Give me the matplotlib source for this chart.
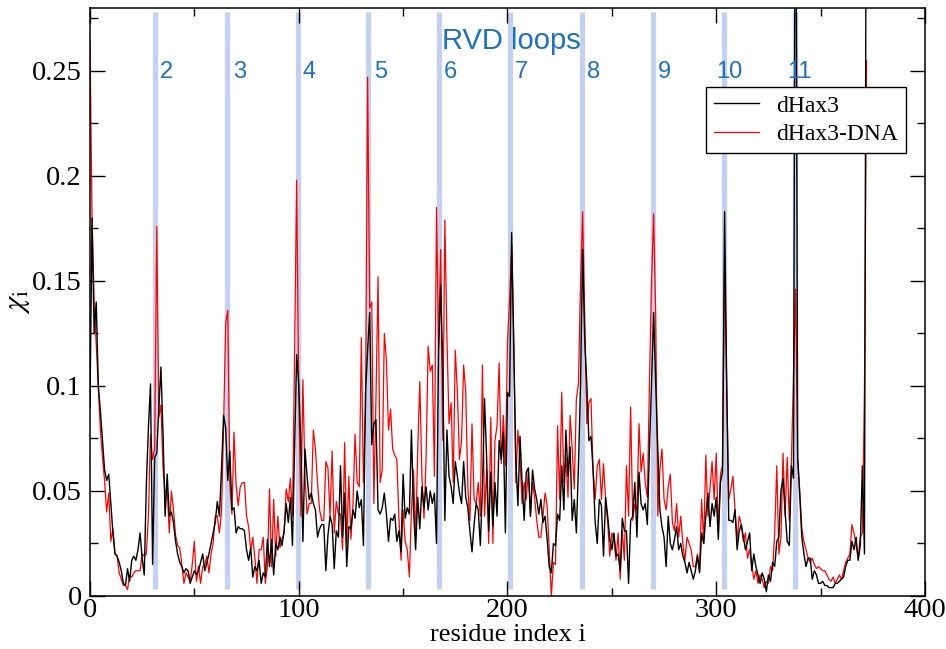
import numpy as np
import matplotlib
matplotlib.use("Agg")
import matplotlib.pyplot as plt
from matplotlib.ticker import MultipleLocator, FuncFormatter

# ---------------- data ----------------
# chi_i per residue index 0..372
chi_dhax3 = [
    0.090, 0.180, 0.125, 0.140, 0.100, 0.088, 0.074, 0.060, 0.055, 0.058,
    0.044, 0.030, 0.020, 0.019, 0.016, 0.012, 0.006, 0.005, 0.013, 0.007,
    0.017, 0.019, 0.017, 0.022, 0.030, 0.018, 0.010, 0.053, 0.080, 0.101,
    0.015, 0.066, 0.068, 0.090, 0.109, 0.077, 0.038, 0.058, 0.038, 0.040,
    0.035, 0.026, 0.020, 0.016, 0.014, 0.011, 0.013, 0.012, 0.006, 0.009,
    0.012, 0.010, 0.012, 0.016, 0.020, 0.012, 0.016, 0.020, 0.025, 0.030,
    0.035, 0.045, 0.038, 0.060, 0.086, 0.080, 0.055, 0.069, 0.041, 0.042,
    0.030, 0.033, 0.032, 0.032, 0.031, 0.022, 0.017, 0.023, 0.009, 0.014,
    0.012, 0.017, 0.006, 0.011, 0.009, 0.027, 0.014, 0.027, 0.010, 0.025,
    0.022, 0.028, 0.024, 0.031, 0.044, 0.035, 0.047, 0.024, 0.070, 0.115,
    0.101, 0.073, 0.026, 0.070, 0.057, 0.046, 0.049, 0.044, 0.041, 0.028,
    0.032, 0.034, 0.034, 0.012, 0.029, 0.038, 0.034, 0.013, 0.031, 0.028,
    0.062, 0.028, 0.049, 0.014, 0.033, 0.032, 0.041, 0.037, 0.050, 0.042,
    0.046, 0.024, 0.097, 0.117, 0.135, 0.072, 0.082, 0.084, 0.041, 0.039,
    0.042, 0.049, 0.039, 0.026, 0.037, 0.036, 0.039, 0.026, 0.031, 0.021,
    0.058, 0.037, 0.042, 0.039, 0.079, 0.041, 0.022, 0.047, 0.032, 0.052,
    0.042, 0.052, 0.041, 0.050, 0.044, 0.049, 0.025, 0.118, 0.148, 0.107,
    0.036, 0.079, 0.057, 0.052, 0.044, 0.064, 0.057, 0.049, 0.044, 0.064,
    0.047, 0.042, 0.031, 0.021, 0.034, 0.044, 0.041, 0.024, 0.051, 0.094,
    0.066, 0.031, 0.059, 0.033, 0.054, 0.038, 0.074, 0.065, 0.078, 0.030,
    0.097, 0.095, 0.173, 0.117, 0.065, 0.043, 0.076, 0.054, 0.036, 0.059,
    0.061, 0.038, 0.060, 0.051, 0.046, 0.039, 0.046, 0.035, 0.038, 0.027,
    0.014, 0.011, 0.025, 0.024, 0.039, 0.036, 0.062, 0.041, 0.079, 0.057,
    0.071, 0.036, 0.046, 0.030, 0.062, 0.101, 0.165, 0.122, 0.101, 0.074,
    0.076, 0.060, 0.035, 0.025, 0.046, 0.043, 0.019, 0.047, 0.038, 0.027,
    0.022, 0.030, 0.019, 0.020, 0.012, 0.037, 0.031, 0.031, 0.006, 0.036,
    0.038, 0.054, 0.028, 0.059, 0.044, 0.041, 0.044, 0.034, 0.070, 0.101,
    0.135, 0.101, 0.070, 0.041, 0.033, 0.028, 0.014, 0.038, 0.025, 0.022,
    0.027, 0.033, 0.022, 0.025, 0.019, 0.016, 0.011, 0.016, 0.012, 0.008,
    0.012, 0.019, 0.011, 0.030, 0.025, 0.038, 0.049, 0.033, 0.044, 0.038,
    0.047, 0.027, 0.054, 0.059, 0.183, 0.101, 0.036, 0.036, 0.035, 0.041,
    0.022, 0.031, 0.034, 0.028, 0.022, 0.026, 0.030, 0.012, 0.020, 0.014,
    0.010, 0.006, 0.011, 0.008, 0.002, 0.010, 0.007, 0.016, 0.014, 0.026,
    0.028, 0.050, 0.056, 0.040, 0.026, 0.024, 0.062, 0.056, 0.420, 0.066,
    0.048, 0.028, 0.020, 0.014, 0.018, 0.018, 0.008, 0.012, 0.010, 0.006,
    0.006, 0.007, 0.005, 0.005, 0.004, 0.004, 0.004, 0.006, 0.006, 0.007,
    0.008, 0.009, 0.014, 0.017, 0.017, 0.026, 0.022, 0.028, 0.017, 0.024,
    0.062, 0.020, 0.420,
]

chi_dhax3_dna = [
    0.265, 0.180, 0.140, 0.120, 0.100, 0.079, 0.066, 0.055, 0.040, 0.049,
    0.026, 0.032, 0.020, 0.019, 0.011, 0.008, 0.005, 0.005, 0.003, 0.010,
    0.009, 0.011, 0.012, 0.012, 0.012, 0.020, 0.019, 0.020, 0.038, 0.077,
    0.065, 0.070, 0.176, 0.085, 0.091, 0.061, 0.049, 0.051, 0.030, 0.050,
    0.041, 0.029, 0.024, 0.023, 0.015, 0.006, 0.011, 0.009, 0.007, 0.015,
    0.026, 0.007, 0.014, 0.006, 0.014, 0.015, 0.019, 0.011, 0.020, 0.025,
    0.038, 0.038, 0.030, 0.040, 0.080, 0.130, 0.136, 0.054, 0.039, 0.078,
    0.053, 0.043, 0.052, 0.054, 0.054, 0.038, 0.033, 0.022, 0.028, 0.018,
    0.006, 0.022, 0.022, 0.028, 0.006, 0.014, 0.051, 0.014, 0.046, 0.019,
    0.038, 0.023, 0.027, 0.030, 0.051, 0.045, 0.056, 0.038, 0.114, 0.198,
    0.098, 0.038, 0.103, 0.057, 0.039, 0.044, 0.044, 0.079, 0.070, 0.054,
    0.041, 0.036, 0.036, 0.064, 0.061, 0.038, 0.069, 0.030, 0.045, 0.039,
    0.039, 0.022, 0.073, 0.025, 0.057, 0.027, 0.044, 0.077, 0.054, 0.052,
    0.123, 0.054, 0.090, 0.247, 0.137, 0.140, 0.044, 0.094, 0.152, 0.054,
    0.060, 0.125, 0.112, 0.079, 0.089, 0.070, 0.067, 0.065, 0.037, 0.017,
    0.041, 0.026, 0.022, 0.009, 0.041, 0.060, 0.027, 0.069, 0.102, 0.057,
    0.037, 0.065, 0.119, 0.107, 0.110, 0.057, 0.185, 0.118, 0.165, 0.074,
    0.179, 0.123, 0.082, 0.092, 0.054, 0.117, 0.097, 0.065, 0.074, 0.110,
    0.097, 0.052, 0.036, 0.082, 0.046, 0.044, 0.054, 0.038, 0.110, 0.038,
    0.060, 0.025, 0.085, 0.025, 0.074, 0.081, 0.111, 0.063, 0.086, 0.062,
    0.121, 0.141, 0.167, 0.125, 0.054, 0.079, 0.065, 0.044, 0.054, 0.046,
    0.060, 0.038, 0.054, 0.047, 0.036, 0.028, 0.028, 0.038, 0.049, 0.043,
    0.022, 0.000, 0.016, 0.015, 0.081, 0.046, 0.097, 0.054, 0.066, 0.047,
    0.086, 0.070, 0.051, 0.094, 0.101, 0.149, 0.183, 0.133, 0.082, 0.092,
    0.094, 0.060, 0.046, 0.062, 0.065, 0.046, 0.063, 0.046, 0.035, 0.019,
    0.030, 0.027, 0.017, 0.030, 0.008, 0.031, 0.017, 0.062, 0.038, 0.090,
    0.036, 0.044, 0.041, 0.082, 0.059, 0.068, 0.054, 0.047, 0.101, 0.149,
    0.182, 0.133, 0.038, 0.060, 0.070, 0.046, 0.041, 0.052, 0.058, 0.035,
    0.031, 0.044, 0.028, 0.038, 0.025, 0.017, 0.028, 0.025, 0.022, 0.014,
    0.014, 0.020, 0.012, 0.046, 0.025, 0.067, 0.038, 0.051, 0.064, 0.046,
    0.068, 0.030, 0.058, 0.062, 0.160, 0.101, 0.046, 0.051, 0.057, 0.041,
    0.027, 0.038, 0.034, 0.026, 0.030, 0.018, 0.022, 0.015, 0.008, 0.012,
    0.006, 0.010, 0.008, 0.004, 0.007, 0.006, 0.014, 0.012, 0.030, 0.062,
    0.020, 0.028, 0.068, 0.038, 0.066, 0.036, 0.064, 0.105, 0.146, 0.066,
    0.050, 0.032, 0.026, 0.022, 0.018, 0.016, 0.018, 0.015, 0.013, 0.014,
    0.013, 0.012, 0.012, 0.010, 0.008, 0.007, 0.009, 0.006, 0.008, 0.010,
    0.008, 0.012, 0.016, 0.018, 0.020, 0.034, 0.030, 0.024, 0.018, 0.028,
    0.030, 0.098, 0.255,
]

# RVD loop positions (residue index) and their labels
loop_pos = [31, 65.5, 99.5, 133, 167, 201, 235.5, 269.5, 303.5, 337.5]
loop_labels = ["2", "3", "4", "5", "6", "7", "8", "9", "10", "11"]
label_x = [33.5, 68.5, 102, 136, 169.5, 203.5, 238, 272, 300, 334]

SERIF = "Liberation Serif"
SANS = "Liberation Sans"
BLUE = "#1c72c0"
BAND = "#c3d0ee"

plt.rcParams["mathtext.fontset"] = "stix"

fig = plt.figure(figsize=(9.46, 6.49), dpi=100)
ax = fig.add_axes([0.0951, 0.0817, 0.8827, 0.906])

# ---- loop bands ----
for xp in loop_pos:
    ax.plot([xp, xp], [0.0035, 0.278], color=BAND, lw=3.8, zorder=1,
            solid_capstyle="butt")

x = np.arange(len(chi_dhax3))
ax.plot(x, chi_dhax3, color="black", lw=1.0, label="dHax3", zorder=3)
ax.plot(x, chi_dhax3_dna, color="#ff0000", lw=0.9, label="dHax3-DNA", zorder=2)

# ---- annotations ----
for lx, lab in zip(label_x, loop_labels):
    ax.text(lx, 0.2495, lab, color=BLUE, fontsize=17, family=SANS,
            ha="left", va="center", zorder=4)
ax.text(202, 0.2645, "RVD loops", color=BLUE, fontsize=21, family=SANS,
        ha="center", va="center", zorder=4)

# ---- axes cosmetics ----
ax.set_xlim(0, 400)
ax.set_ylim(0, 0.28)
ax.xaxis.set_major_locator(MultipleLocator(100))
ax.xaxis.set_minor_locator(MultipleLocator(50))
ax.yaxis.set_major_locator(MultipleLocator(0.05))
ax.yaxis.set_minor_locator(MultipleLocator(0.025))
ax.yaxis.set_major_formatter(FuncFormatter(lambda v, p: ("%.2f" % v).rstrip("0").rstrip(".") if v else "0"))

ax.tick_params(which="both", direction="in", top=True, right=True, width=1.0)
ax.tick_params(which="major", length=11)
ax.tick_params(axis="y", which="major", pad=6)
ax.tick_params(axis="x", which="major", pad=1.5)
ax.tick_params(which="minor", length=5.5)
for lab in ax.get_xticklabels() + ax.get_yticklabels():
    lab.set_fontfamily(SERIF)
    lab.set_fontsize(20.5)
for sp in ax.spines.values():
    sp.set_linewidth(1.1)

ax.set_xlabel("residue index i", family=SERIF, fontsize=19)
ax.xaxis.set_label_coords(0.5, -0.047)
ax.set_ylabel(r"$\chi_{\rm i}$", fontsize=22)
ax.yaxis.set_label_coords(-0.07, 0.5)

leg = ax.legend(loc="upper right", bbox_to_anchor=(0.977, 0.866),
                prop={"family": SERIF, "size": 17}, frameon=True,
                fancybox=False, handlelength=1.9, borderpad=0.35,
                labelspacing=0.3, handletextpad=0.7, borderaxespad=0)
leg.get_frame().set_edgecolor("black")
leg.get_frame().set_linewidth(1.0)
leg.get_frame().set_alpha(1.0)
leg.set_zorder(5)

fig.savefig("out.png", dpi=100)
